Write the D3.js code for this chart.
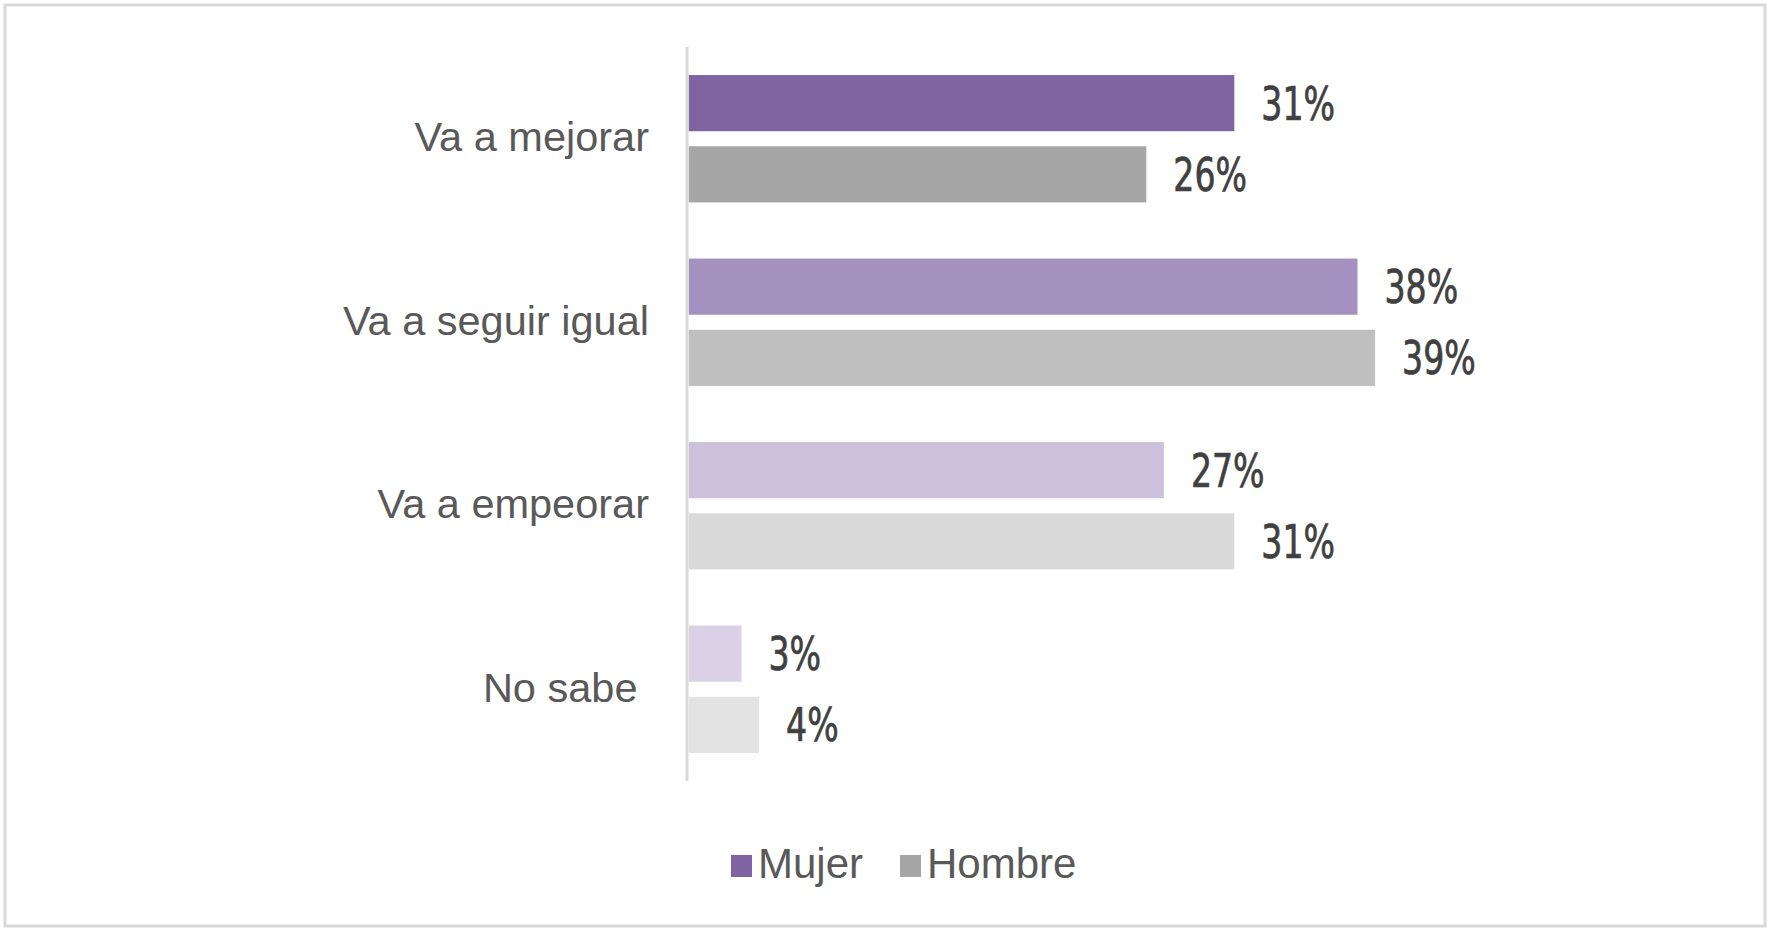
<!DOCTYPE html>
<html>
<head>
<meta charset="utf-8">
<script src="https://cdn.jsdelivr.net/npm/d3@7/dist/d3.min.js"></script>
<style>
  html, body { margin: 0; padding: 0; background: #ffffff; }
  svg { display: block; }
  text { white-space: pre; }
</style>
</head>
<body>
<script>
// ---- data ----
const categories = ["Va a mejorar", "Va a seguir igual", "Va a empeorar", "No sabe "];
const seriesNames = ["Mujer", "Hombre"];
const mujerValues = [31, 38, 27, 3];
const hombreValues = [26, 39, 31, 4];
const mujerColors = ["#8064a2", "#a591c0", "#ccc1da", "#dad1e6"];
const hombreColors = ["#a6a6a6", "#bfbfbf", "#d9d9d9", "#e3e3e3"];
const legendColors = ["#8064a2", "#a6a6a6"];

const W = 1773, H = 935;
const svg = d3.select("body").append("svg").attr("width", W).attr("height", H);

// outer frame
svg.append("rect")
  .attr("x", 5).attr("y", 5).attr("width", 1760).attr("height", 921)
  .attr("fill", "#ffffff").attr("stroke", "#d9d9d9").attr("stroke-width", 3);

const x0 = 688.7;
const x = d3.scaleLinear().domain([0, 50]).range([x0, x0 + 880]);
const y = d3.scaleBand().domain(categories).range([47, 781]).paddingInner(0).paddingOuter(0);
const ySub = d3.scaleBand().domain(seriesNames).range([0, y.bandwidth()])
  .paddingInner(0.211).paddingOuter(0.394);

const rows = categories.map((c, i) => ({
  cat: c,
  items: [
    { s: "Mujer", v: mujerValues[i], color: mujerColors[i] },
    { s: "Hombre", v: hombreValues[i], color: hombreColors[i] }
  ]
}));

const g = svg.append("g");
const groups = g.selectAll("g.cat").data(rows).join("g")
  .attr("class", "cat")
  .attr("transform", d => `translate(0,${y(d.cat)})`);

groups.selectAll("rect").data(d => d.items).join("rect")
  .attr("x", x(0))
  .attr("y", d => ySub(d.s))
  .attr("width", d => x(d.v) - x(0))
  .attr("height", ySub.bandwidth())
  .attr("fill", d => d.color);

const vals = groups.selectAll("text.val").data(d => d.items).join("text")
  .attr("class", "val")
  .attr("x", d => x(d.v) + 27)
  .attr("y", d => ySub(d.s) + ySub.bandwidth() / 2 + 16.5)
  .attr("font-family", "'DejaVu Sans Condensed', 'DejaVu Sans', sans-serif")
  .attr("font-stretch", "condensed")
  .attr("font-size", 45.5)
  .attr("fill", "#404040")
  .attr("stroke", "#404040")
  .attr("stroke-width", 0.7)
  .text(d => d.v + "%");
vals.each(function () {
  const w = this.getComputedTextLength();
  d3.select(this).attr("textLength", w * 0.81).attr("lengthAdjust", "spacingAndGlyphs");
});

// axis line (category axis)
const yAxis = d3.axisLeft(y).tickSize(0).tickPadding(38);
const ax = svg.append("g").attr("transform", `translate(${x0 - 1.7},0)`).call(yAxis);
ax.select(".domain").attr("stroke", "#d9d9d9").attr("stroke-width", 3)
  .attr("d", `M0,${y.range()[0]}V${y.range()[1]}`);
ax.selectAll(".tick text")
  .attr("font-family", "'Liberation Sans', Arial, sans-serif")
  .attr("font-size", 41.5)
  .attr("fill", "#595959")
  .attr("dy", null)
  .attr("y", 12.5);

// legend
const legend = svg.append("g");
let lx = 731;
seriesNames.forEach((name, i) => {
  legend.append("rect")
    .attr("x", lx).attr("y", 855).attr("width", 21).attr("height", 22)
    .attr("fill", legendColors[i]);
  const t = legend.append("text")
    .attr("x", lx + 27).attr("y", 878)
    .attr("font-family", "'Liberation Sans', Arial, sans-serif")
    .attr("font-size", 42)
    .attr("fill", "#595959")
    .text(name);
  lx = lx + 27 + t.node().getComputedTextLength() + 37;
});
</script>
</body>
</html>
